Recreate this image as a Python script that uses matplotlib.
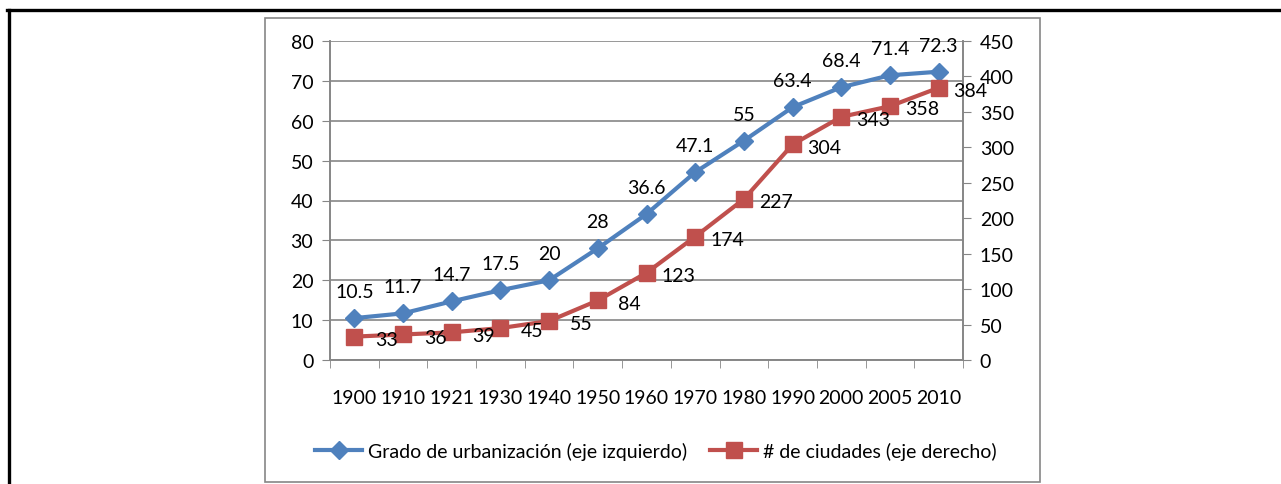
import matplotlib.pyplot as plt
from matplotlib.lines import Line2D
from matplotlib.patches import Rectangle

years = ['1900', '1910', '1921', '1930', '1940', '1950', '1960', '1970',
         '1980', '1990', '2000', '2005', '2010']
urbanizacion = [10.5, 11.7, 14.7, 17.5, 20, 28, 36.6, 47.1, 55, 63.4, 68.4, 71.4, 72.3]
ciudades = [33, 36, 39, 45, 55, 84, 123, 174, 227, 304, 343, 358, 384]

blue = '#4F81BD'
red = '#C0504D'
gray = '#868686'

plt.rcParams['font.family'] = ['Lato', 'DejaVu Sans']
plt.rcParams['font.size'] = 14

W, H = 1281, 485
fig = plt.figure(figsize=(W / 100, H / 100), dpi=100)

# marco exterior (solo arriba e izquierda)
fig.add_artist(Line2D([8.5 / W, 8.5 / W], [0, 1 - 10.5 / H], color='black', lw=2.4))
fig.add_artist(Line2D([7 / W, 1], [1 - 10.5 / H, 1 - 10.5 / H], color='black', lw=2.4))
# borde del área del gráfico
fig.add_artist(Rectangle((265 / W, 1 - 483 / H), (1040 - 265) / W, (483 - 19) / H,
                         fill=False, ec=gray, lw=1.2))

ax = fig.add_axes([330 / W, 1 - 361 / H, (963 - 330) / W, (361 - 42) / H])
ax2 = ax.twinx()

x = list(range(len(years)))
ax.plot(x, urbanizacion, color=blue, lw=3, marker='D', ms=9, zorder=3,
        label='Grado de urbanización (eje izquierdo)')
ax2.plot(x, ciudades, color=red, lw=3, marker='s', ms=11, zorder=3,
         label='# de ciudades (eje derecho)')

for xi, v in zip(x, urbanizacion):
    ax.annotate(f'{v:g}', (xi, v), xytext=(0, 19), textcoords='offset points',
                ha='center', va='center', fontsize=14)
for xi, v in zip(x, ciudades):
    ax2.annotate(f'{v}', (xi, v), xytext=(23, -2), textcoords='offset points',
                 ha='center', va='center', fontsize=14)

ax.set_xlim(-0.5, len(years) - 0.5)
ax.set_ylim(0, 80)
ax.set_yticks(range(0, 81, 10))
ax2.set_ylim(0, 450)
ax2.set_yticks(range(0, 451, 50))

ax.set_xticks(x)
ax.set_xticklabels(years)
ax.set_xticks([i - 0.5 for i in range(len(years) + 1)], minor=True)
ax.tick_params(axis='x', which='major', length=0, pad=21)
ax.tick_params(axis='x', which='minor', length=6, color=gray, direction='out')
ax.tick_params(axis='y', length=6, color=gray, pad=6)
ax2.tick_params(axis='y', length=6, color=gray, pad=6)

ax.grid(axis='y', color=gray, lw=1.2)
ax.set_axisbelow(True)
for a in (ax, ax2):
    a.spines['top'].set_visible(False)
    for s in ('left', 'right', 'bottom'):
        a.spines[s].set_color(gray)
        a.spines[s].set_linewidth(1.2)

h1, l1 = ax.get_legend_handles_labels()
h2, l2 = ax2.get_legend_handles_labels()
fig.legend(h1 + h2, l1 + l2, loc='center', bbox_to_anchor=(656 / W, 1 - 452 / H),
           ncol=2, frameon=False, fontsize=14, handlelength=2.4, columnspacing=1.2,
           handletextpad=0.3)

fig.savefig('out.png', dpi=100)
